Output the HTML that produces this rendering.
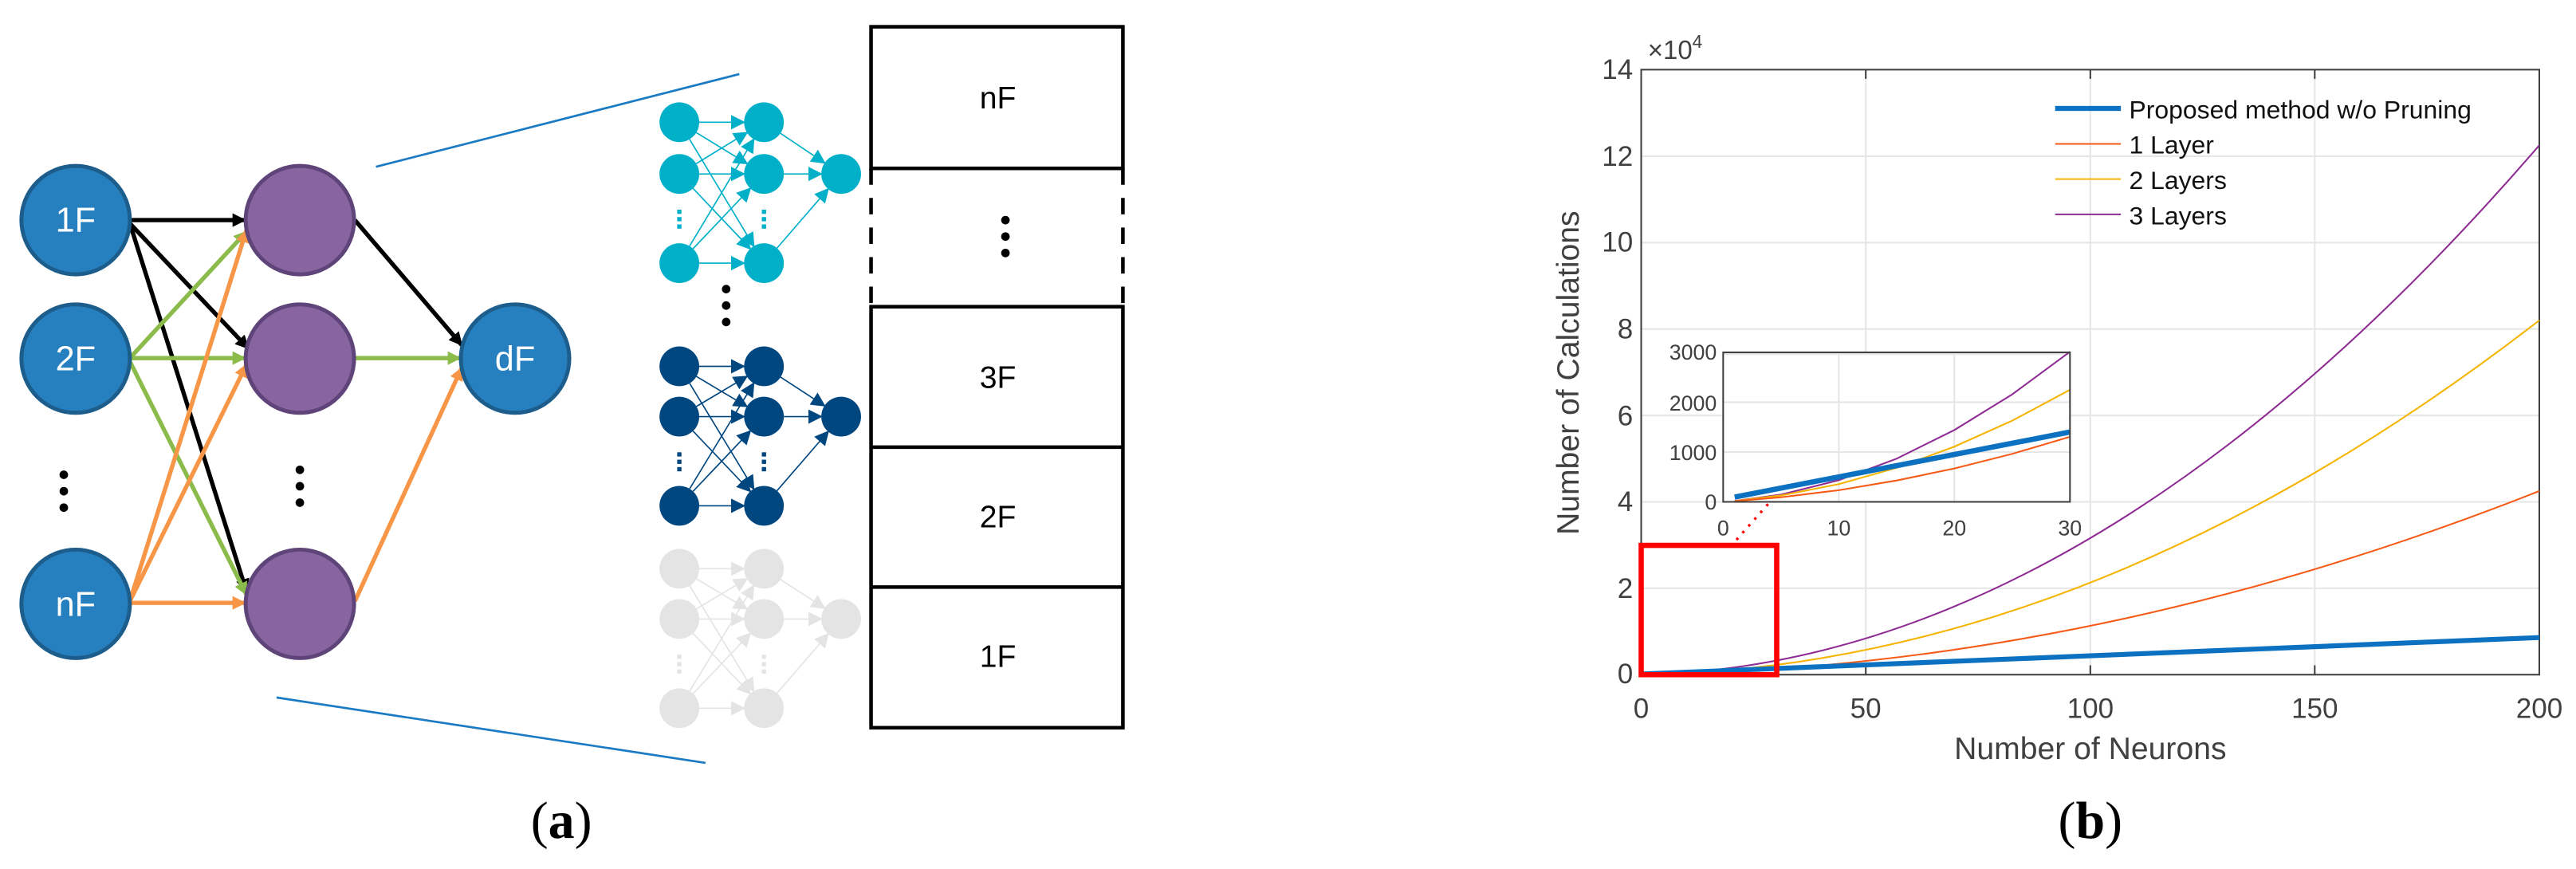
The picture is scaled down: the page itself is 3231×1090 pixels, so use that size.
<!DOCTYPE html>
<html><head><meta charset="utf-8"><style>html,body{margin:0;padding:0;background:#fff}svg{display:block}</style></head>
<body>
<svg id="s" width="3231" height="1090" viewBox="0 0 1568 529" xmlns="http://www.w3.org/2000/svg" font-family="Liberation Sans, sans-serif">
<defs>
<marker id="ak" viewBox="0 0 10 10" refX="9" refY="5" markerWidth="3.2" markerHeight="3.2" orient="auto"><path d="M0,0L10,5L0,10z" fill="#000"/></marker>
<marker id="ag" viewBox="0 0 10 10" refX="9" refY="5" markerWidth="3.2" markerHeight="3.2" orient="auto"><path d="M0,0L10,5L0,10z" fill="#8bbb4a"/></marker>
<marker id="ao" viewBox="0 0 10 10" refX="9" refY="5" markerWidth="3.2" markerHeight="3.2" orient="auto"><path d="M0,0L10,5L0,10z" fill="#f79646"/></marker>
<marker id="mc" viewBox="0 0 10 10" refX="9" refY="5" markerWidth="11" markerHeight="11" orient="auto"><path d="M0,0L10,5L0,10z" fill="#00afc8"/></marker>
<marker id="md" viewBox="0 0 10 10" refX="9" refY="5" markerWidth="11" markerHeight="11" orient="auto"><path d="M0,0L10,5L0,10z" fill="#00467f"/></marker>
<marker id="mg" viewBox="0 0 10 10" refX="9" refY="5" markerWidth="11" markerHeight="11" orient="auto"><path d="M0,0L10,5L0,10z" fill="#e4e4e4"/></marker>
</defs>

<line x1="228.8" y1="101.5" x2="450" y2="45.1" stroke="#1a7bc4" stroke-width="1.3"/>
<line x1="168.3" y1="424.6" x2="429.4" y2="464.4" stroke="#1a7bc4" stroke-width="1.3"/>

<g stroke-width="2.6" fill="none">
<line x1="79" y1="134" x2="149" y2="134" stroke="#000" marker-end="url(#ak)"/>
<line x1="79" y1="136" x2="151" y2="212" stroke="#000" marker-end="url(#ak)"/>
<line x1="79" y1="136" x2="150" y2="360" stroke="#000" marker-end="url(#ak)"/>
<line x1="79" y1="218" x2="150" y2="141" stroke="#8bbb4a" marker-end="url(#ag)"/>
<line x1="79" y1="218" x2="149" y2="218" stroke="#8bbb4a" marker-end="url(#ag)"/>
<line x1="79" y1="220" x2="150" y2="362" stroke="#8bbb4a" marker-end="url(#ag)"/>
<line x1="79" y1="366" x2="150" y2="140" stroke="#f79646" marker-end="url(#ao)"/>
<line x1="79" y1="366" x2="150" y2="222" stroke="#f79646" marker-end="url(#ao)"/>
<line x1="79" y1="367" x2="149" y2="367" stroke="#f79646" marker-end="url(#ao)"/>
<line x1="216" y1="134" x2="281" y2="210" stroke="#000" marker-end="url(#ak)"/>
<line x1="216" y1="218" x2="280" y2="218" stroke="#8bbb4a" marker-end="url(#ag)"/>
<line x1="216" y1="366" x2="281" y2="224" stroke="#f79646" marker-end="url(#ao)"/>
</g>

<g stroke-width="2.4">
<circle cx="46" cy="134" r="33" fill="#2680c0" stroke="#1c5d8c"/>
<circle cx="46" cy="218.3" r="33" fill="#2680c0" stroke="#1c5d8c"/>
<circle cx="46" cy="367.6" r="33" fill="#2680c0" stroke="#1c5d8c"/>
<circle cx="182.5" cy="134" r="33" fill="#8864a0" stroke="#5e4479"/>
<circle cx="182.5" cy="218.3" r="33" fill="#8864a0" stroke="#5e4479"/>
<circle cx="182.5" cy="367.6" r="33" fill="#8864a0" stroke="#5e4479"/>
<circle cx="313.5" cy="218.3" r="33" fill="#2680c0" stroke="#1c5d8c"/>
</g>
<g fill="#fff" font-size="21" text-anchor="middle">
<text x="46" y="141">1F</text><text x="46" y="225.5">2F</text><text x="46" y="375">nF</text><text x="313.5" y="225.5">dF</text>
</g>
<g fill="#000">
<circle cx="38.8" cy="289" r="2.6"/><circle cx="38.8" cy="299" r="2.6"/><circle cx="38.8" cy="309" r="2.6"/>
<circle cx="182.5" cy="286" r="2.6"/><circle cx="182.5" cy="296" r="2.6"/><circle cx="182.5" cy="306" r="2.6"/>
<circle cx="442" cy="176" r="2.6"/><circle cx="442" cy="186" r="2.6"/><circle cx="442" cy="196" r="2.6"/>
<circle cx="612" cy="134" r="2.6"/><circle cx="612" cy="144" r="2.6"/><circle cx="612" cy="154" r="2.6"/>
</g>
<g id="nets"></g>

<g stroke="#000" stroke-width="2.2" fill="none">
<rect x="530.2" y="16.3" width="153.3" height="86.2"/>
<rect x="530.2" y="186.7" width="153.3" height="256.3"/>
<line x1="530.2" y1="272.2" x2="683.5" y2="272.2"/>
<line x1="530.2" y1="357.4" x2="683.5" y2="357.4"/>
<line x1="530.2" y1="102.5" x2="530.2" y2="186.7" stroke-dasharray="10,8"/>
<line x1="683.5" y1="102.5" x2="683.5" y2="186.7" stroke-dasharray="10,8"/>
</g>
<g font-size="19" text-anchor="middle" fill="#000">
<text x="607.4" y="66">nF</text><text x="607.4" y="236">3F</text><text x="607.4" y="321">2F</text><text x="607.4" y="406">1F</text>
</g>
<text x="341.7" y="510" font-family="Liberation Serif, serif" font-size="32" text-anchor="middle">(<tspan font-weight="bold">a</tspan>)</text>

<g stroke="#e6e6e6" stroke-width="1">
<line x1="1135.7" y1="42.4" x2="1135.7" y2="410.7"/><line x1="1272.4" y1="42.4" x2="1272.4" y2="410.7"/><line x1="1409" y1="42.4" x2="1409" y2="410.7"/>
<line x1="999" y1="358.1" x2="1545.7" y2="358.1"/><line x1="999" y1="305.5" x2="1545.7" y2="305.5"/><line x1="999" y1="252.9" x2="1545.7" y2="252.9"/><line x1="999" y1="200.3" x2="1545.7" y2="200.3"/><line x1="999" y1="147.7" x2="1545.7" y2="147.7"/><line x1="999" y1="95.1" x2="1545.7" y2="95.1"/>
</g>
<rect x="999" y="42.4" width="546.7" height="368.3" fill="none" stroke="#404040" stroke-width="1"/>
<g stroke="#404040" stroke-width="1">
<line x1="1135.7" y1="410.7" x2="1135.7" y2="405"/><line x1="1272.4" y1="410.7" x2="1272.4" y2="405"/><line x1="1409" y1="410.7" x2="1409" y2="405"/>
<line x1="1135.7" y1="42.4" x2="1135.7" y2="48"/><line x1="1272.4" y1="42.4" x2="1272.4" y2="48"/><line x1="1409" y1="42.4" x2="1409" y2="48"/>
</g>
<g fill="#404040" font-size="17" text-anchor="end">
<text x="994" y="416">0</text><text x="994" y="364">2</text><text x="994" y="311">4</text><text x="994" y="259">6</text><text x="994" y="206">8</text><text x="994" y="153">10</text><text x="994" y="101">12</text><text x="994" y="48">14</text>
</g>
<text x="1003" y="36" fill="#404040" font-size="16">×10<tspan font-size="11" dy="-7">4</tspan></text>
<g fill="#404040" font-size="17" text-anchor="middle">
<text x="999" y="437">0</text><text x="1135.7" y="437">50</text><text x="1272.4" y="437">100</text><text x="1409" y="437">150</text><text x="1545.7" y="437">200</text>
</g>
<text x="1272.4" y="462" fill="#404040" font-size="19" text-anchor="middle">Number of Neurons</text>
<text transform="translate(961,227) rotate(-90)" fill="#404040" font-size="19" text-anchor="middle">Number of Calculations</text>

<path d="M999,410.7 Q1272.35,405.6 1545.7,88.4" fill="none" stroke="#8e2b92" stroke-width="1"/>
<path d="M999,410.7 Q1272.35,406.5 1545.7,195" fill="none" stroke="#f5b400" stroke-width="1"/>
<path d="M999,410.7 Q1272.35,407.15 1545.7,298.9" fill="none" stroke="#f55a16" stroke-width="1"/>
<line x1="999" y1="410.3" x2="1545.7" y2="388.1" stroke="#0b71c0" stroke-width="3"/>

<rect x="999" y="332" width="82.5" height="78.7" fill="none" stroke="#f00" stroke-width="3.2"/>
<line x1="1057" y1="328.6" x2="1077" y2="306" stroke="#f00" stroke-width="1.6" stroke-dasharray="1.5,4"/>

<line x1="1251" y1="66" x2="1291" y2="66" stroke="#0b71c0" stroke-width="3"/>
<line x1="1251" y1="87.6" x2="1291" y2="87.6" stroke="#f55a16" stroke-width="1"/>
<line x1="1251" y1="109" x2="1291" y2="109" stroke="#f5b400" stroke-width="1"/>
<line x1="1251" y1="130.5" x2="1291" y2="130.5" stroke="#8e2b92" stroke-width="1"/>
<g fill="#111" font-size="15.5">
<text x="1296" y="72">Proposed method w/o Pruning</text><text x="1296" y="93.5">1 Layer</text><text x="1296" y="115">2 Layers</text><text x="1296" y="136.5">3 Layers</text>
</g>

<rect x="1048.9" y="214.5" width="211.1" height="91" fill="#fff"/>
<g stroke="#e6e6e6" stroke-width="1">
<line x1="1119.3" y1="214.5" x2="1119.3" y2="305.5"/><line x1="1189.6" y1="214.5" x2="1189.6" y2="305.5"/>
<line x1="1048.9" y1="275.2" x2="1260" y2="275.2"/><line x1="1048.9" y1="244.8" x2="1260" y2="244.8"/><line x1="1048.9" y1="215.5" x2="1260" y2="215.5"/>
</g>
<polyline points="1055.9,305.0 1084.1,301.1 1119.3,292.3 1154.5,279.2 1189.6,261.8 1224.8,240.1 1260,214.1" fill="none" stroke="#8e2b92" stroke-width="1"/>
<polyline points="1055.9,304.96 1084.1,301.6 1119.3,294.7 1154.5,284.8 1189.6,271.9 1224.8,256.1 1260,237.3" fill="none" stroke="#f5b400" stroke-width="1"/>
<line x1="1055.9" y1="302.6" x2="1260" y2="263" stroke="#0b71c0" stroke-width="3.2"/>
<polyline points="1055.9,305.06 1084.1,302.7 1119.3,298.4 1154.5,292.5 1189.6,285.2 1224.8,276.3 1260,265.9" fill="none" stroke="#f55a16" stroke-width="1"/>
<rect x="1048.9" y="214.5" width="211.1" height="91" fill="none" stroke="#404040" stroke-width="1"/>
<g fill="#404040" font-size="13" text-anchor="end">
<text x="1045" y="310">0</text><text x="1045" y="280">1000</text><text x="1045" y="250">2000</text><text x="1045" y="219">3000</text>
</g>
<g fill="#404040" font-size="13" text-anchor="middle">
<text x="1048.9" y="326">0</text><text x="1119.3" y="326">10</text><text x="1189.6" y="326">20</text><text x="1260" y="326">30</text>
</g>
<text x="1272.4" y="510" font-family="Liberation Serif, serif" font-size="32" text-anchor="middle">(<tspan font-weight="bold">b</tspan>)</text>
</svg>
<script>
(function(){
var g=document.getElementById('nets'),NS='http://www.w3.org/2000/svg';
function el(t,a){var e=document.createElementNS(NS,t);for(var k in a)e.setAttribute(k,a[k]);g.appendChild(e);}
function net(ys,oy,col,m){
 var xi=413.5,xh=465,xo=512,r=12.1;
 for(var i=0;i<3;i++)for(var j=0;j<3;j++){
  var dx=xh-xi,dy=ys[j]-ys[i],L=Math.hypot(dx,dy);
  el('line',{x1:xi+dx/L*r,y1:ys[i]+dy/L*r,x2:xh-dx/L*r,y2:ys[j]-dy/L*r,stroke:col,'stroke-width':0.8,'marker-end':'url(#'+m+')'});}
 for(var j=0;j<3;j++){var dx=xo-xh,dy=oy-ys[j],L=Math.hypot(dx,dy);
  el('line',{x1:xh+dx/L*r,y1:ys[j]+dy/L*r,x2:xo-dx/L*r,y2:oy-dy/L*r,stroke:col,'stroke-width':0.8,'marker-end':'url(#'+m+')'});}
 for(var i=0;i<3;i++){el('circle',{cx:xi,cy:ys[i],r:r,fill:col});el('circle',{cx:xh,cy:ys[i],r:r,fill:col});}
 el('circle',{cx:xo,cy:oy,r:r,fill:col});
 var d0=ys[1]+(ys[2]-ys[1])*0.4;
 for(var k=0;k<3;k++){el('rect',{x:xi-1.3,y:d0+k*4.5,width:2.6,height:2.6,fill:col});el('rect',{x:xh-1.3,y:d0+k*4.5,width:2.6,height:2.6,fill:col});}
}
net([74.4,105.9,160.2],105.9,'#00afc8','mc');
net([223,253.6,307.9],253.6,'#00467f','md');
net([346.2,376.8,431.1],376.8,'#e4e4e4','mg');
})();
</script>
</body></html>
